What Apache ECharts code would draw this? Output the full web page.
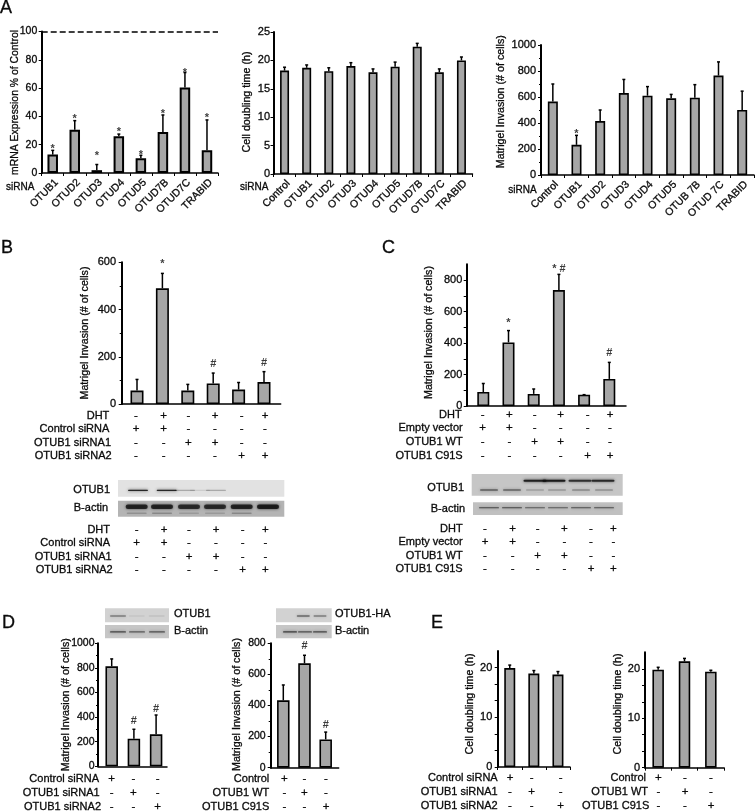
<!DOCTYPE html>
<html><head><meta charset="utf-8">
<style>html,body{margin:0;padding:0;background:#fff}#c{width:756px;height:812px}</style>
<script src="https://cdn.jsdelivr.net/npm/echarts@6/dist/echarts.min.js"></script>
</head><body><div id="c"></div>
<script>
// ---- data ----
const a1Cats=['OTUB1','OTUD2','OTUD3','OTUD4','OTUD5','OTUD7B','OTUD7C','TRABID'];
const a1Vals=[13,30.5,2,26,10.5,29,60.5,16];
const a1Tops=[16,37,6,27.5,12.5,41,71,37.5];
const a1Marks=[[0,19,'*'],[1,40,'*'],[2,14.5,'*'],[3,31,'*'],[4,14.7,'*'],[5,44,'*'],[6,73,'*'],[7,41,'*']];
const a2Cats=['Control','OTUB1','OTUD2','OTUD3','OTUD4','OTUD5','OTUD7B','OTUD7C','TRABID'];
const a2Vals=[18.2,18.7,18.1,19,17.9,18.9,22.4,17.9,20];
const a2Tops=[18.8,19.2,18.7,19.6,18.5,19.7,23,18.5,20.6];
const a3Cats=['Control','OTUB1','OTUD2','OTUD3','OTUD4','OTUD5','OTUB 7B','OTUD 7C','TRABID'];
const a3Vals=[565,232,415,630,610,590,595,765,500];
const a3Tops=[700,305,500,735,680,620,695,870,645];
const a3Marks=[[1,338,'*']];
const bVals=[57,490,57,87,61,93];
const bTops=[104,553,83,131,91,137];
const bMarks=[[1,604,'*'],[3,170,'#'],[5,172,'#']];
const cVals=[89,404,77,736,72,172];
const cTops=[143,479,108,836,72,277];
const cMarks=[[1,549,'*'],[3,889,'* #'],[5,336,'#']];
const d1Vals=[813,225,260];
const d1Tops=[873,301,417];
const d1Marks=[[1,368,'#'],[2,466,'#']];
const d2Vals=[433,671,182];
const d2Tops=[532,723,229];
const d2Marks=[[1,783,'#'],[2,275,'#']];
const e1Vals=[19.9,18.8,18.6];
const e1Tops=[20.5,19.4,19.2];
const e2Vals=[19.8,21.5,19.4];
const e2Tops=[20.3,22.1,19.7];
const bRows=['DHT','Control siRNA','OTUB1 siRNA1','OTUB1 siRNA2'];
const cRows=['DHT','Empty vector','OTUB1 WT','OTUB1 C91S'];
const dRows1=['Control siRNA','OTUB1 siRNA1','OTUB1 siRNA2'];
const dRows2=['Control','OTUB1 WT','OTUB1 C91S'];
const signs4=['-+-+-+','++----','--++--','----++'];
const signs3=['+--','-+-','--+'];
const blotB1=[.85,.85,.25,.1,.25];
const blotB2=[.8,.8,.75,.75,.8,.85];
const blotC1up=[.85,.9,.75,.8];
const blotC1low=[.75,.7,.3,.35,.45,.4];
const blotC2=[.65,.65,.55,.55,.6,.6];
const blotD1=[.4,.06,.08];
const blotD2=[.65,.55,.6];
const blotD3=[.5,.4];
const blotD4=[.7,.6,.65];

// ---- builders ----
const FONT='"Liberation Sans",Arial,sans-serif';
const INK='#0a0a0a';
const grid=[],xAxis=[],yAxis=[],series=[],graphic=[];
function txt(text,x,y,size,align,rot){
  graphic.push({type:'text',x,y,rotation:rot?Math.PI/2:0,silent:true,
    style:{text,fontFamily:FONT,fontSize:size,fill:INK,stroke:INK,lineWidth:.3,align:align||'left',verticalAlign:'middle'}});
}
function errRender(params,api){
  const x=api.value(0),a=api.coord([x,api.value(1)]),b=api.coord([x,api.value(2)]);
  const st={stroke:'#000',lineWidth:1.5,fill:null};
  return {type:'group',children:[
    {type:'line',shape:{x1:a[0],y1:a[1],x2:b[0],y2:b[1]},style:st},
    {type:'line',shape:{x1:b[0]-1.5,y1:b[1],x2:b[0]+1.5,y2:b[1]},style:st}]};
}
function panel(o){
  const i=grid.length, bottom=o.y0, top=o.yTop;
  grid.push({left:o.x0,top,width:o.x1-o.x0,height:bottom-top,containLabel:false,show:false});
  if(o.cats){
    xAxis.push({gridIndex:i,type:'category',data:o.cats,boundaryGap:true,
      axisLine:{lineStyle:{color:'#000',width:1.5}},
      axisTick:{show:true,length:3,alignWithLabel:false,lineStyle:{color:'#000',width:1}},
      axisLabel:{show:!o.noLabels,rotate:45,interval:0,margin:4,align:'right',verticalAlign:'top',fontFamily:FONT,fontSize:10.5,color:INK,textBorderColor:INK,textBorderWidth:.3}});
  }else{
    const min=(o.x0-o.c0)/o.step,max=(o.x1-o.c0)/o.step;
    xAxis.push({gridIndex:i,type:'value',min,max,splitLine:{show:false},
      axisLine:{show:true,onZero:false,lineStyle:{color:'#000',width:1.5}},axisTick:{show:false},axisLabel:{show:false}});
  }
  yAxis.push({gridIndex:i,type:'value',min:0,max:o.max,interval:o.interval,splitLine:{show:false},
    axisLine:{show:true,onZero:false,lineStyle:{color:'#000',width:2}},
    axisTick:{show:true,length:3,lineStyle:{color:'#000',width:1}},
    minorTick:{show:!!o.minor,splitNumber:o.minor||1,length:2,lineStyle:{color:'#000',width:1}},
    minorSplitLine:{show:false},
    axisLabel:{show:true,margin:o.margin,fontFamily:FONT,fontSize:o.tick||11,color:INK,textBorderColor:INK,textBorderWidth:.3,
      showMaxLabel:o.labelEvery?false:true,
      formatter:v=>{const r=Math.round(v);if(Math.abs(v-r)>0.01)return '';return !o.labelEvery||r%o.labelEvery===0?String(r):'';}}});
  const pts=o.vals.map((v,k)=>o.cats?v:[k,v]);
  series.push({type:'bar',xAxisIndex:i,yAxisIndex:i,data:pts,barWidth:o.barW,
    itemStyle:{color:'#a6a6a6',borderColor:'#000',borderWidth:o.border||1.6},silent:true,animation:false,
    markLine:o.dashed?{silent:true,symbol:'none',label:{show:false},animation:false,
      lineStyle:{color:'#000',type:[6,3],width:1.5},data:[{yAxis:o.dashed}]}:undefined});
  series.push({type:'custom',xAxisIndex:i,yAxisIndex:i,renderItem:errRender,clip:false,silent:true,animation:false,
    encode:{x:0,y:[1,2]},data:o.vals.map((v,k)=>[k,v,o.tops[k]])});
  if(o.marks) series.push({type:'scatter',xAxisIndex:i,yAxisIndex:i,clip:false,silent:true,animation:false,symbolSize:1,
    itemStyle:{color:'transparent'},
    data:o.marks.map(m=>({value:[m[0],m[1]],label:{show:true,position:'inside',formatter:m[2],
      offset:[0,m[2]==='#'?0:3],fontFamily:FONT,fontWeight:'bold',fontSize:11,color:INK}}))});
}
function blot(o){
  const i=grid.length;
  grid.push({left:o.l,top:o.t,width:o.r-o.l,height:o.b-o.t,show:true,backgroundColor:o.bg,borderWidth:0});
  xAxis.push({gridIndex:i,type:'value',min:o.l,max:o.r,show:false});
  yAxis.push({gridIndex:i,type:'value',min:0,max:1,inverse:true,show:false});
  const data=[];
  o.bands.forEach(B=>B.vals.forEach((v,k)=>data.push([B.xs[k],B.y,v,B.w,B.h])));
  series.push({type:'custom',xAxisIndex:i,yAxisIndex:i,silent:true,animation:false,encode:{x:0,y:1},data,
    renderItem:(p,api)=>{
      const c=api.coord([api.value(0),api.value(1)]),a=api.value(2),w=api.value(3),h=api.value(4);
      const col='rgba(15,15,15,'+a+')';
      return {type:'rect',shape:{x:c[0]-w/2,y:c[1]-h/2,width:w,height:h,r:h/2},
        style:{fill:col,shadowBlur:3,shadowColor:col}};
    }});
}
function table(rows,signs,rights,ys,cols,size){
  rows.forEach((r,k)=>{
    txt(r,rights[k],ys[k],size||11,'right');
    signs[k].split('').forEach((s,j)=>txt(s,cols[j],ys[k],11.5,'center'));
  });
}

// ---- panels ----
txt('A',0,8.5,18); txt('B',1,248,18); txt('C',382,248,18); txt('D',2,623,18); txt('E',431,623,18);

panel({x0:41.7,x1:218,y0:173,yTop:31.5,max:100,interval:20,tick:10.5,margin:4.4,cats:a1Cats,vals:a1Vals,tops:a1Tops,marks:a1Marks,barW:10.5,border:2,dashed:100});
panel({x0:273.5,x1:472.5,y0:174,yTop:32,max:25,interval:5,margin:3.5,cats:a2Cats,vals:a2Vals,tops:a2Tops,barW:9});
panel({x0:541,x1:754,y0:175,yTop:45,max:1000,interval:200,minor:2,margin:5,cats:a3Cats,vals:a3Vals,tops:a3Tops,marks:a3Marks,barW:10});
txt('mRNA Expression % of Control',15,102.5,10.4,'center',1);
txt('Cell doubling time (h)',246.7,102,10.7,'center',1);
txt('Matrigel Invasion (# of cells)',501,101.7,10.7,'center',1);
txt('siRNA',6,187.3,10,'left'); txt('siRNA',240,187.7,10,'left'); txt('siRNA',508.3,190,10,'left');

panel({x0:121.7,x1:280.7,y0:404,yTop:262.3,max:600,interval:200,minor:2,margin:5.7,c0:137,step:25.4,vals:bVals,tops:bTops,marks:bMarks,barW:13});
txt('Matrigel Invasion (# of cells)',85,333,10.7,'center',1);
table(bRows,signs4,[109.3,109.3,111,111.7],[415.7,429,442.7,456],[136,163.7,188.3,215,241.7,265]);

panel({x0:466.7,x1:626,y0:406,yTop:264.3,max:900,interval:100,labelEvery:200,margin:4.4,c0:483.3,step:25.2,vals:cVals,tops:cTops,marks:cMarks,barW:12});
txt('Matrigel Invasion (# of cells)',429.3,332.5,10.7,'center',1);
table(cRows,signs4,[461.7,462.7,462.7,462.7],[414.7,428,442.3,455.7],[482.7,509.3,534.7,560.7,587.7,610]);

blot({l:118,r:284.3,t:480,b:496.7,bg:'#e2e2e2',bands:[{vals:blotB1,xs:[138,166.7,185,200,216],y:.62,w:20,h:1.3}]});
blot({l:118,r:284.3,t:500.7,b:516.7,bg:'#b4b4b4',bands:[
  {vals:blotB2,xs:[136.7,162,189,215,241.7,268],y:.38,w:22,h:4.5},
  {vals:[.2,.25,.15,.15,.25],xs:[136.7,162,189,215,241.7],y:.78,w:20,h:1.5}]});
txt('OTUB1',110,490,11,'right'); txt('B-actin',108,507.7,11,'right');
table(bRows,signs4,[110,110,111.7,112.7],[530,543.3,556.7,570],[136.7,164,189,216,242.7,265.3]);

blot({l:471.7,r:622.7,t:474,b:495.7,bg:'#c6c6c6',bands:[
  {vals:blotC1up,xs:[535,554,580,603],y:.31,w:23,h:2.2},
  {vals:blotC1low,xs:[489,512,535,557,581,604],y:.74,w:18,h:.9}]});
blot({l:473,r:622.7,t:502.3,b:515,bg:'#c0c0c0',bands:[{vals:blotC2,xs:[489,512,535,558,581,604],y:.42,w:20,h:1}]});
txt('OTUB1',464,487.7,11,'right'); txt('B-actin',465,509,11,'right');
table(cRows,signs4,[462.7,462.7,462.7,462.7],[529.3,542.3,556,569.3],[485,512.7,537.7,564.3,591,613.3]);

panel({x0:98,x1:167,y0:766.3,yTop:643.3,max:1000,interval:200,minor:2,tick:10.5,margin:3.5,c0:111.7,step:22.2,vals:d1Vals,tops:d1Tops,marks:d1Marks,barW:12.5});
txt('Matrigel Invasion (# of cells)',66,704.7,10.7,'center',1);
table(dRows1,signs3,[99,99.7,101],[779,792.7,807],[111.7,133.3,157.7]);
panel({x0:270.7,x1:338.7,y0:767.7,yTop:643.3,max:800,interval:200,minor:2,tick:10.5,margin:5,c0:283.3,step:21.2,vals:d2Vals,tops:d2Tops,marks:d2Marks,barW:12.5});
txt('Matrigel Invasion (# of cells)',237.3,704.5,10.7,'center',1);
table(dRows2,signs3,[269.3,269.3,269.3],[779,792.7,807],[284.3,304.3,326]);

blot({l:105,r:169,t:608.3,b:622.3,bg:'#d2d2d2',bands:[{vals:blotD1,xs:[118,136.7,156.7],y:.55,w:16,h:1.4}]});
blot({l:105,r:169,t:625,b:638.3,bg:'#c6c6c6',bands:[{vals:blotD2,xs:[118,137,157],y:.52,w:16,h:1.2}]});
txt('OTUB1',174,614,11); txt('B-actin',174,631,11);
blot({l:276,r:331.7,t:608.3,b:622.3,bg:'#d2d2d2',bands:[{vals:blotD3,xs:[303.3,320],y:.55,w:13,h:1.4}]});
blot({l:276,r:331.7,t:625,b:638.3,bg:'#c6c6c6',bands:[{vals:blotD4,xs:[290,305,320],y:.52,w:14,h:1.2}]});
txt('OTUB1-HA',335,614,11); txt('B-actin',335,631,11);

panel({x0:497.7,x1:570,y0:767,yTop:651,max:70/3,interval:10/3,labelEvery:10,margin:5.4,cats:['Control siRNA','OTUB1 siRNA1','OTUB1 siRNA2'],noLabels:true,vals:e1Vals,tops:e1Tops,barW:11});
txt('Cell doubling time (h)',470,704,10.7,'center',1);
table(dRows1,signs3,[497.7,497.7,497.7],[778,792,805.7],[510,531.7,560.7]);
panel({x0:645,x1:724,y0:767.7,yTop:652.3,max:70/3,interval:10/3,labelEvery:10,margin:5,cats:['Control','OTUB1 WT','OTUB1 C91S'],noLabels:true,vals:e2Vals,tops:e2Tops,barW:11.5});
txt('Cell doubling time (h)',617.7,704,10.7,'center',1);
table(dRows2,signs3,[646,648,649.3],[778,792,806],[658.3,685,711]);

const chart=echarts.init(document.getElementById('c'),null,{renderer:'canvas'});
chart.setOption({animation:false,backgroundColor:'#fff',grid,xAxis,yAxis,series,graphic});
</script></body></html>
